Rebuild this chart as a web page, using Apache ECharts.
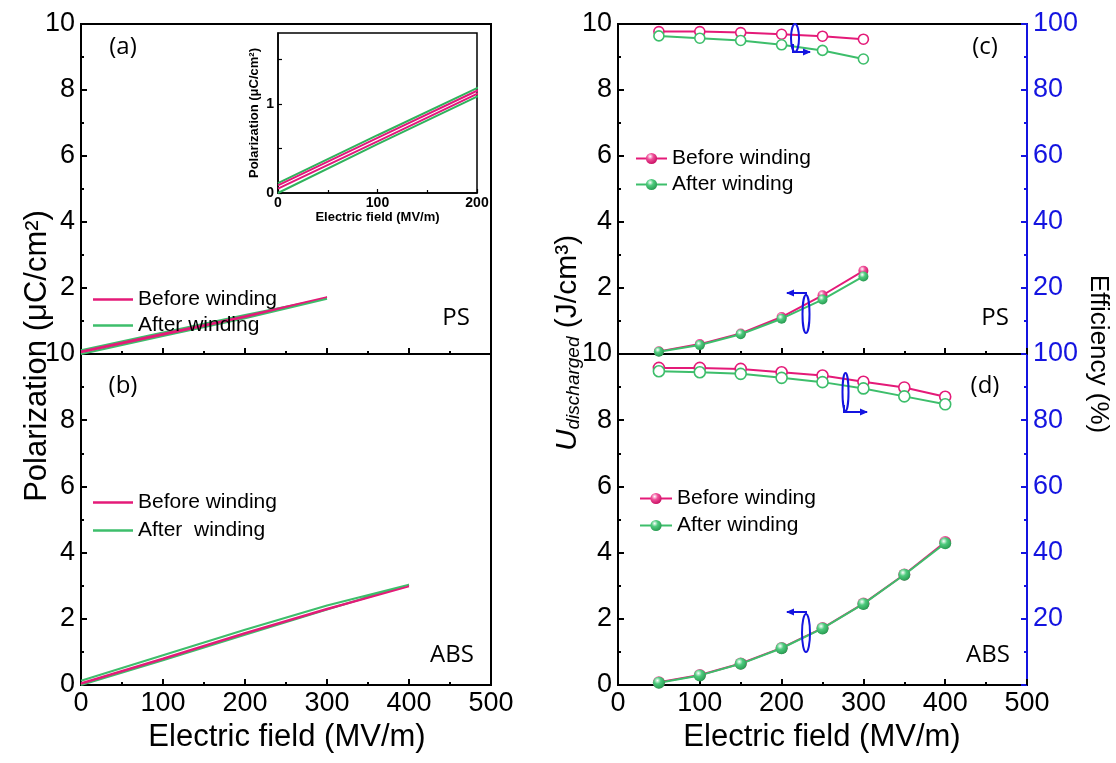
<!DOCTYPE html>
<html><head><meta charset="utf-8">
<script src="https://cdn.jsdelivr.net/npm/echarts@6/dist/echarts.min.js"></script>
<style>html,body{margin:0;padding:0;background:#fff}#c{width:1116px;height:763px}</style>
</head><body><div id="c"></div>
<script>
// ---------- data ----------
const xTickLabels = [0, 100, 200, 300, 400, 500];
// (a) PS polarization loop (out on upper branch, back on lower branch)
const psField = [0, 100, 200, 300, 200, 100, 0];
const psBeforeP = [0.085, 0.62, 1.15, 1.73, 1.115, 0.58, 0.05];
const psAfterP = [0.11, 0.65, 1.18, 1.68, 1.085, 0.55, 0.0];
// (b) ABS polarization
const absField = [0, 100, 200, 300, 400, 300, 200, 100, 0];
const absBeforeP = [0.06, 0.81, 1.58, 2.31, 2.98, 2.28, 1.55, 0.78, 0.03];
const absAfterP = [0.13, 0.90, 1.67, 2.40, 3.03, 2.28, 1.52, 0.75, 0.0];
// (c) PS energy & efficiency
const fieldPS = [50, 100, 150, 200, 250, 300];
const uPSBefore = [0.08, 0.30, 0.62, 1.12, 1.78, 2.52];
const uPSAfter = [0.07, 0.27, 0.60, 1.07, 1.65, 2.35];
const effPSBefore = [97.7, 97.7, 97.4, 96.9, 96.3, 95.4];
const effPSAfter = [96.4, 95.7, 95.0, 93.7, 92.0, 89.4];
// (d) ABS energy & efficiency
const fieldABS = [50, 100, 150, 200, 250, 300, 350, 400];
const uABSBefore = [0.08, 0.30, 0.65, 1.12, 1.72, 2.46, 3.34, 4.32];
const uABSAfter = [0.07, 0.29, 0.64, 1.11, 1.71, 2.45, 3.33, 4.28];
const effABSBefore = [95.8, 95.8, 95.5, 94.5, 93.5, 91.6, 89.9, 87.1];
const effABSAfter = [94.8, 94.5, 94.0, 92.8, 91.5, 89.6, 87.2, 84.8];

const legendNames = {
  a1: 'Before winding', a2: 'After winding',
  b1: 'Before winding', b2: 'After  winding',
  c1: 'Before winding', c2: 'After winding',
  d1: 'Before winding', d2: 'After winding'
};

// ---------- styling ----------
const PINK = '#E41A78', GREEN = '#3DBE6B', BLUE = '#1414E0';
const FONT = 'Liberation Sans, Arial, sans-serif';
const TICK = 27;
const pair = (xs, ys) => xs.map((x, i) => [x, ys[i]]);
const sphere = (light, mid, dark) => ({
  type: 'radial', x: 0.38, y: 0.32, r: 0.7,
  colorStops: [{ offset: 0, color: light }, { offset: 0.4, color: mid }, { offset: 1, color: dark }]
});
const pinkSphere = sphere('#ffffff', '#F0509A', '#C80E62');
const greenSphere = sphere('#ffffff', '#4FCB7E', '#279A50');

function xAx(grid, showLabels) {
  return {
    type: 'value', gridIndex: grid, min: 0, max: 500, interval: 100,
    axisLine: { show: true, onZero: false, lineStyle: { color: '#000', width: 2 } },
    axisTick: { show: true, inside: true, length: 6, lineStyle: { color: '#000', width: 2 } },
    minorTick: { show: true, splitNumber: 2, length: 3, lineStyle: { color: '#000', width: 2 } },
    splitLine: { show: false },
    axisLabel: { show: showLabels, margin: 5, fontFamily: FONT, fontSize: TICK, color: '#000',
      formatter: v => (xTickLabels.indexOf(v) >= 0 ? String(v) : '') }
  };
}
function yAx(grid, hideMin) {
  return {
    type: 'value', gridIndex: grid, min: 0, max: 10, interval: 2,
    axisLine: { show: true, onZero: false, lineStyle: { color: '#000', width: 2 } },
    axisTick: { show: true, inside: true, length: 6, lineStyle: { color: '#000', width: 2 } },
    minorTick: { show: true, splitNumber: 2, length: 3, lineStyle: { color: '#000', width: 2 } },
    splitLine: { show: false },
    axisLabel: { showMinLabel: !hideMin, margin: 6, fontFamily: FONT, fontSize: TICK, color: '#000' }
  };
}
function effAx(grid) {
  return {
    type: 'value', gridIndex: grid, position: 'right', min: 0, max: 100, interval: 20,
    axisLine: { show: true, onZero: false, lineStyle: { color: BLUE, width: 2 } },
    axisTick: { show: true, inside: true, length: 6, lineStyle: { color: BLUE, width: 2 } },
    minorTick: { show: true, splitNumber: 2, length: 3, lineStyle: { color: BLUE, width: 2 } },
    splitLine: { show: false },
    axisLabel: { showMinLabel: false, margin: 6, fontFamily: FONT, fontSize: TICK, color: BLUE }
  };
}

function lineSeries(name, xi, yi, data, color, width, z) {
  return { name, type: 'line', xAxisIndex: xi, yAxisIndex: yi, data, symbol: 'none', showSymbol: false,
    lineStyle: { color, width }, itemStyle: { color }, clip: true, z: z || 2, animation: false };
}
function uSeries(name, xi, yi, data, color, fill, size, z) {
  return { name, type: 'line', xAxisIndex: xi, yAxisIndex: yi, data, symbol: 'circle', symbolSize: size,
    showSymbol: true, lineStyle: { color, width: 2 }, itemStyle: { color: fill, borderWidth: 0 },
    z, animation: false };
}
function effSeries(name, xi, yi, data, color, size, z) {
  return { name, type: 'line', xAxisIndex: xi, yAxisIndex: yi, data, symbol: 'circle', symbolSize: size,
    showSymbol: true, lineStyle: { color, width: 2 }, itemStyle: { color: '#fff', borderColor: color, borderWidth: 1.6 },
    z, animation: false };
}

const gridBase = { show: true, borderColor: '#000', borderWidth: 2, backgroundColor: 'transparent', containLabel: false };
const legendBase = {
  orient: 'vertical', itemGap: 6, itemHeight: 14,
  textStyle: { fontFamily: FONT, fontSize: 21, color: '#000' },
  formatter: n => legendNames[n], selectedMode: false
};

const option = {
  backgroundColor: '#fff',
  animation: false,
  grid: [
    Object.assign({ left: 81, top: 24, width: 410, height: 330 }, gridBase),
    Object.assign({ left: 81, top: 354, width: 410, height: 331 }, gridBase),
    Object.assign({ left: 618, top: 24, width: 409, height: 330 }, gridBase),
    Object.assign({ left: 618, top: 354, width: 409, height: 331 }, gridBase),
    { show: true, left: 278, top: 33, width: 199, height: 160, borderColor: '#000', borderWidth: 1.5, backgroundColor: '#fff' }
  ],
  xAxis: [
    xAx(0, false), xAx(1, true), xAx(2, false), xAx(3, true),
    {
      type: 'value', gridIndex: 4, min: 0, max: 200, interval: 100,
      axisLine: { show: true, onZero: false, lineStyle: { color: '#000', width: 1.5 } },
      axisTick: { inside: true, length: 4, lineStyle: { color: '#000', width: 1.2 } },
      minorTick: { show: true, splitNumber: 2, length: 3, lineStyle: { color: '#000', width: 1.2 } },
      splitLine: { show: false },
      axisLabel: { margin: 3, fontFamily: FONT, fontSize: 14, fontWeight: 'bold', color: '#000' },
      name: 'Electric field (MV/m)', nameLocation: 'middle', nameGap: 14,
      nameTextStyle: { fontFamily: FONT, fontSize: 13, fontWeight: 'bold', color: '#000', verticalAlign: 'top' }
    }
  ],
  yAxis: [
    yAx(0, true), yAx(1, false), yAx(2, true), yAx(3, false), effAx(2), effAx(3),
    {
      type: 'value', gridIndex: 4, min: 0, max: 1.8, interval: 0.5,
      axisLine: { show: true, onZero: false, lineStyle: { color: '#000', width: 1.5 } },
      axisTick: { inside: true, length: 4, lineStyle: { color: '#000', width: 1.2 } },
      splitLine: { show: false },
      axisLabel: { margin: 4, fontFamily: FONT, fontSize: 14, fontWeight: 'bold', color: '#000',
        showMaxLabel: false, formatter: v => (Math.abs(v - Math.round(v)) < 1e-6 ? String(Math.round(v)) : '') },
      name: 'Polarization (\u03bcC/cm\u00b2)', nameLocation: 'middle', nameGap: 17,
      nameTextStyle: { fontFamily: FONT, fontSize: 13, fontWeight: 'bold', color: '#000' }
    }
  ],
  legend: [
    Object.assign({}, legendBase, { left: 88, top: 284, itemWidth: 40, itemHeight: 2.5, icon: 'rect', itemGap: 5, data: ['a1', 'a2'] }),
    Object.assign({}, legendBase, { left: 88, top: 487, itemWidth: 40, itemHeight: 2.5, icon: 'rect', itemGap: 7, data: ['b1', 'b2'] }),
    Object.assign({}, legendBase, { left: 630, top: 143, itemWidth: 31, itemGap: 5, data: ['c1', 'c2'] }),
    Object.assign({}, legendBase, { left: 634, top: 483, itemWidth: 32, data: ['d1', 'd2'] })
  ],
  series: [
    // (a)
    lineSeries('a2', 0, 0, pair(psField, psAfterP), GREEN, 2.2, 2),
    lineSeries('a1', 0, 0, pair(psField, psBeforeP), PINK, 1.6, 3),
    // (b)
    lineSeries('b2', 1, 1, pair(absField, absAfterP), GREEN, 2, 2),
    lineSeries('b1', 1, 1, pair(absField, absBeforeP), PINK, 1.6, 3),
    // inset (same PS loops, zoomed)
    lineSeries('inset after', 4, 6, pair(psField, psAfterP), '#2FB35C', 2, 5),
    lineSeries('inset before', 4, 6, pair(psField, psBeforeP), '#E0187A', 2, 6),
    // (c)
    effSeries('c1 eff', 2, 4, pair(fieldPS, effPSBefore), PINK, 10, 3),
    effSeries('c2 eff', 2, 4, pair(fieldPS, effPSAfter), GREEN, 10, 3),
    uSeries('c1', 2, 2, pair(fieldPS, uPSBefore), PINK, pinkSphere, 10, 3),
    uSeries('c2', 2, 2, pair(fieldPS, uPSAfter), GREEN, greenSphere, 10, 4),
    // (d)
    effSeries('d1 eff', 3, 5, pair(fieldABS, effABSBefore), PINK, 11, 3),
    effSeries('d2 eff', 3, 5, pair(fieldABS, effABSAfter), GREEN, 11, 3),
    uSeries('d1', 3, 3, pair(fieldABS, uABSBefore), PINK, pinkSphere, 12, 3),
    uSeries('d2', 3, 3, pair(fieldABS, uABSAfter), GREEN, greenSphere, 12, 4)
  ],
  graphic: []
};

function txt(x, y, text, font, color, rot) {
  return { type: 'text', x, y, rotation: rot || 0, z: 100,
    style: { text, font, fill: color || '#000', align: 'center', verticalAlign: 'middle', textAlign: 'center', textVerticalAlign: 'middle' } };
}
function ellipse(cx, cy, rx, ry) {
  return { type: 'ellipse', z: 100, shape: { cx, cy, rx, ry }, style: { fill: null, stroke: BLUE, lineWidth: 2 } };
}
function arrow(points, dir) {
  const [x, y] = points[points.length - 1];
  const head = dir > 0 ? [[x - 7, y - 3.5], [x + 1, y], [x - 7, y + 3.5]] : [[x + 7, y - 3.5], [x - 1, y], [x + 7, y + 3.5]];
  return [
    { type: 'polyline', z: 100, shape: { points }, style: { stroke: BLUE, lineWidth: 2, fill: null } },
    { type: 'polygon', z: 100, shape: { points: head }, style: { fill: BLUE } }
  ];
}

const titleFont = '31px ' + FONT;
const g = option.graphic;
g.push(txt(37, 356, 'Polarization (\u03bcC/cm\u00b2)', titleFont, '#000', Math.PI / 2));
g.push(txt(287, 737, 'Electric field (MV/m)', titleFont));
g.push(txt(822, 737, 'Electric field (MV/m)', titleFont));
g.push(txt(1098, 354, 'Efficiency (%)', '26px ' + FONT, '#000', -Math.PI / 2));
g.push({
  type: 'text', x: 565, y: 343, rotation: Math.PI / 2, z: 100,
  style: {
    text: '{i|U}{s|discharged}{n| (J/cm\u00b3)}', align: 'center', verticalAlign: 'middle',
    rich: {
      i: { fontFamily: FONT, fontSize: 30, fontStyle: 'italic', fill: '#000', lineHeight: 36, verticalAlign: 'bottom' },
      s: { fontFamily: FONT, fontSize: 19, fontStyle: 'italic', fill: '#000', lineHeight: 27, verticalAlign: 'bottom' },
      n: { fontFamily: FONT, fontSize: 30, fill: '#000', lineHeight: 36, verticalAlign: 'bottom' }
    }
  }
});
const panelFont = '24px Open Sans, sans-serif';
g.push(txt(123, 47, '(a)', panelFont));
g.push(txt(123, 386, '(b)', panelFont));
g.push(txt(985, 47, '(c)', panelFont));
g.push(txt(985, 386, '(d)', panelFont));
g.push(txt(456, 318, 'PS', panelFont));
g.push(txt(452, 655, 'ABS', panelFont));
g.push(txt(995, 318, 'PS', panelFont));
g.push(txt(988, 655, 'ABS', panelFont));
// blue axis-indicating ellipses and arrows
g.push(ellipse(795, 38, 4, 14));
g.push(...arrow([[793, 44], [793, 52], [810, 52]], 1));
g.push(ellipse(806, 314, 3.5, 19));
g.push(...arrow([[806, 295], [806, 293], [787, 293]], -1));
g.push(ellipse(845.5, 392, 3, 19));
g.push(...arrow([[844, 405], [844, 412], [867, 412]], 1));
g.push(ellipse(806, 633, 4, 19));
g.push(...arrow([[806, 614], [806, 612], [787, 612]], -1));

const chart = echarts.init(document.getElementById('c'), null, { renderer: 'canvas', width: 1116, height: 763 });
chart.setOption(option);
</script>
</body></html>
